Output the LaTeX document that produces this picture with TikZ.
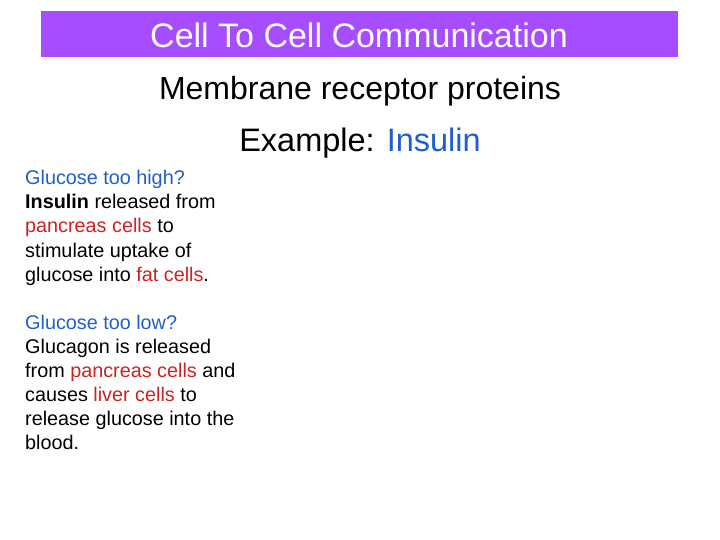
\documentclass[tikz,border=0pt]{standalone}
\usepackage{fontspec}
\setmainfont{Liberation Sans}
\definecolor{bar}{HTML}{A64DFF}
\definecolor{bl}{HTML}{1F5FCC}
\definecolor{rd}{HTML}{CC2222}
\begin{document}
\begin{tikzpicture}[x=1pt,y=-1pt,
  ln/.style={anchor=base west,inner sep=0pt,font=\fontsize{19.8}{22}\selectfont},
  big/.style={anchor=base,inner sep=0pt,font=\fontsize{32}{34}\selectfont}]
\useasboundingbox (0,0) rectangle (720,540);
\fill[bar] (41,11) rectangle (678,57);
\node[big,text=white,font=\fontsize{34}{36}\selectfont] (t) at (359,47.5) {Cell To Cell Communication};
\node[big] (m) at (360,100) {Membrane receptor proteins};
\node[big,font=\fontsize{32.5}{34}\selectfont] (e) at (360,151.5) {Example: \textcolor{bl}{Insulin}};
\node[ln] (a1) at (25,185) {\textcolor{bl}{Glucose too high?}};
\node[ln] (a2) at (25,209) {\textbf{Insulin} released from};
\node[ln] (a3) at (25,233) {\textcolor{rd}{pancreas cells} to};
\node[ln] (a4) at (25,257) {stimulate uptake of};
\node[ln] (a5) at (25,281) {glucose into \textcolor{rd}{fat cells}.};
\node[ln] (b1) at (25,329) {\textcolor{bl}{Glucose too low?}};
\node[ln] (b2) at (25,353) {Glucagon is released};
\node[ln] (b3) at (25,377) {from \textcolor{rd}{pancreas cells} and};
\node[ln] (b4) at (25,401) {causes \textcolor{rd}{liver cells} to};
\node[ln] (b5) at (25,425) {release glucose into the};
\node[ln] (b6) at (25,449) {blood.};
\end{tikzpicture}
\end{document}
